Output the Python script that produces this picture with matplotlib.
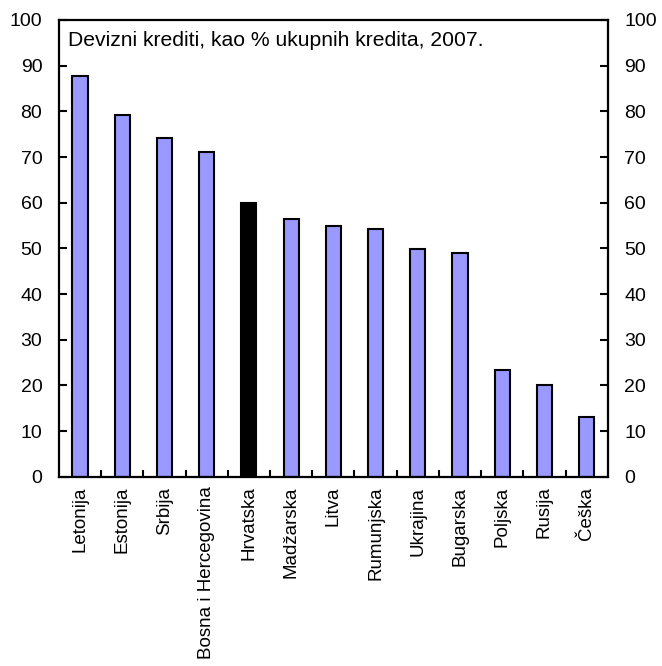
import numpy as np
import matplotlib
matplotlib.use("Agg")
import matplotlib.pyplot as plt

countries = ['Letonija', 'Estonija', 'Srbija', 'Bosna i Hercegovina', 'Hrvatska',
             'Madžarska', 'Litva', 'Rumunjska', 'Ukrajina', 'Bugarska',
             'Poljska', 'Rusija', 'Češka']
values = [87.8, 79.3, 74.1, 71.0, 59.9, 56.4, 54.9, 54.3, 49.9, 49.1, 23.4, 20.1, 13.0]
highlight = 'Hrvatska'

plt.rcParams['font.family'] = ['Liberation Sans', 'DejaVu Sans']

fig = plt.figure(figsize=(6.62, 6.66), dpi=100)
ax = fig.add_axes([0.089, 0.284, 0.829, 0.686])

x = np.arange(len(countries))
colors = ['black' if c == highlight else '#9999FF' for c in countries]
ax.bar(x, values, width=0.36, color=colors, edgecolor='black', linewidth=1.5)

ax.set_xlim(-0.5, len(countries) - 0.5)
ax.set_ylim(0, 100)
ax.set_yticks(range(0, 101, 10))

ax.set_xticks(x)
ax.set_xticklabels(countries, rotation=90, fontsize=13.5)
ax.tick_params(axis='x', which='major', length=0, pad=7)
ax.set_xticks(np.arange(0.5, len(countries) - 1, 1), minor=True)
ax.tick_params(axis='x', which='minor', direction='in', length=5, width=1.5)

ax.tick_params(axis='y', direction='in', length=6, width=1.5, labelsize=14,
               left=True, right=True, labelleft=True, labelright=True, pad=12)

for s in ax.spines.values():
    s.set_linewidth(1.6)

ax.text(0.017, 0.975, 'Devizni krediti, kao % ukupnih kredita, 2007.',
        transform=ax.transAxes, ha='left', va='top', fontsize=15.2)

fig.savefig('out.png', dpi=100)
